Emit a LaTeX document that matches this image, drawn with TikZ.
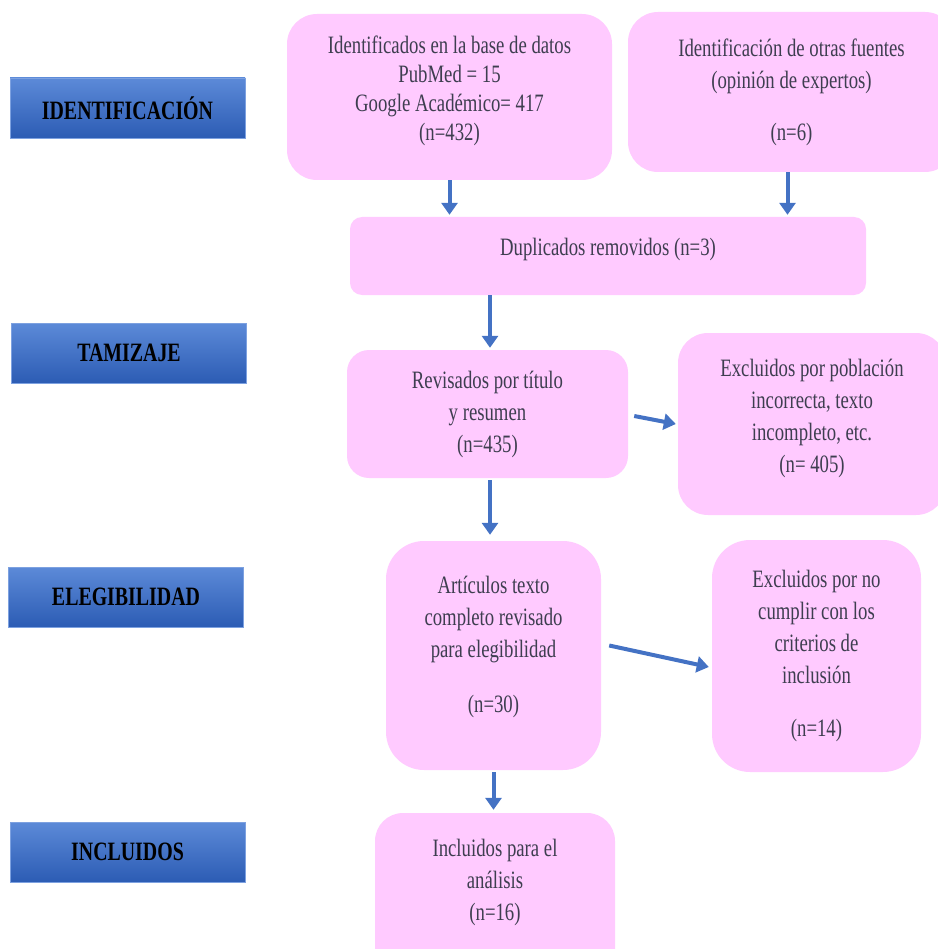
\documentclass[tikz,border=0pt]{standalone}
\usepackage{fontspec}
\setmainfont{Liberation Serif}[FakeStretch=0.75]
\usepackage{xcolor}
\usetikzlibrary{arrows.meta}
\definecolor{boxpink}{RGB}{255,202,255}
\definecolor{boxtext}{RGB}{62,62,80}
\definecolor{arrblue}{RGB}{68,114,196}
\definecolor{tagtop}{RGB}{92,138,216}
\definecolor{tagbottom}{RGB}{44,92,180}
\tikzset{
  pinkbox/.style={fill=boxpink, draw=none, align=center, text=boxtext,
    font=\fontsize{25}{32}\selectfont, inner sep=0pt},
  tagbox/.style={top color=tagtop, bottom color=tagbottom, draw=tagtop!80!white,
    line width=0.8pt, minimum width=235pt, minimum height=60pt, inner sep=0pt,
    font=\fontsize{26.5}{30}\selectfont\bfseries, text=black},
  arr/.style={draw=arrblue, line width=4pt,
    -{Triangle[width=16pt,length=12pt]}}
}

\begin{document}
\begin{tikzpicture}[x=1pt,y=-1pt]
   \useasboundingbox (0,0) rectangle (937,949);
   % etiquetas de las fases
   \node[tagbox] (tid) at (127.5,108) {IDENTIFICACIÓN};
   \node[tagbox] (ttam) at (129,353) {TAMIZAJE};
   \node[tagbox] (teleg) at (126,597) {ELEGIBILIDAD};
   \node[tagbox] (tinc) at (127.5,852) {INCLUIDOS};
   % cajas del diagrama
   \node[pinkbox, font=\fontsize{25}{29}\selectfont, rounded corners=30pt, minimum width=325pt, minimum height=166pt] (bases) at (449.5,97)
      {Identificados en la base de datos\\ PubMed = 15\\ Google Académico= 417\\ (n=432)\\[-20pt]\strut};
   \node[pinkbox, rounded corners=30pt, minimum width=327pt, minimum height=160pt] (otras) at (791.5,92)
      {Identificación de otras fuentes\\ (opinión de expertos)\\[20pt] (n=6)};
   \node[pinkbox, rounded corners=12pt, minimum width=516pt, minimum height=78pt] (dupl) at (608,256)
      {Duplicados removidos (n=3)\\[-23pt]\strut};
   \node[pinkbox, rounded corners=22pt, minimum width=281pt, minimum height=128pt] (revis) at (487.5,414)
      {Revisados por título\\ y resumen\\ (n=435)};
   \node[pinkbox, rounded corners=30pt, minimum width=268pt, minimum height=182pt] (excpob) at (812,424)
      {Excluidos por población\\ incorrecta, texto\\ incompleto, etc.\\ (n= 405)\\[-26pt]\strut};
   \node[pinkbox, rounded corners=38pt, minimum width=215pt, minimum height=229pt] (artic) at (493.5,655.5)
      {Artículos texto\\ completo revisado\\ para elegibilidad\\[23pt] (n=30)\\[-20pt]\strut};
   \node[pinkbox, rounded corners=38pt, minimum width=209pt, minimum height=232pt] (exccrit) at (816.5,656)
      {Excluidos por no\\ cumplir con los\\ criterios de\\ inclusión\\[21pt] (n=14)};
   \node[pinkbox, rounded corners=28pt, minimum width=240pt, minimum height=164pt] (inclu) at (495,895)
      {Incluidos para el\\ análisis\\ (n=16)\\[-12pt]\strut};
   % flechas
   \draw[arr] (bases.south) -- ([yshift=2pt]bases.south |- dupl.north);
   \draw[arr] ([xshift=-4pt]otras.south) -- ([xshift=-4pt,yshift=2pt]otras.south |- dupl.north);
   \draw[arr] ([xshift=2.5pt]revis.north |- dupl.south) -- ([xshift=2.5pt,yshift=2pt]revis.north);
   \draw[arr] ([xshift=2.5pt,yshift=-2pt]revis.south) -- ([xshift=2.5pt,yshift=6pt]revis.south |- artic.north);
   \draw[arr] ([yshift=-2pt]artic.south) -- ([yshift=3pt]artic.south |- inclu.north);
   \draw[arr] ([xshift=6pt,yshift=-2pt]revis.east) -- ([xshift=-2pt]excpob.west);
   \draw[arr] ([xshift=8pt,yshift=10pt]artic.east) -- ([xshift=-3pt,yshift=-11pt]exccrit.west);
\end{tikzpicture}
\end{document}
